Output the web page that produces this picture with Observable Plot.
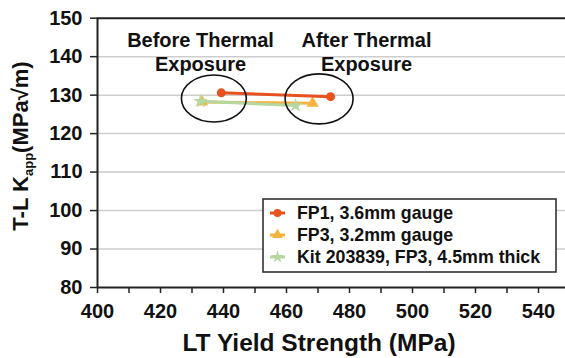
<!DOCTYPE html>
<html>
<head>
<meta charset="utf-8">
<script src="https://cdn.jsdelivr.net/npm/d3@7"></script>
<script src="https://cdn.jsdelivr.net/npm/@observablehq/plot@0.6"></script>
<style>
  html, body { margin: 0; padding: 0; background: #fff; overflow: hidden; }
  #chart { position: relative; width: 565px; height: 358px; overflow: hidden; }
  #chart svg { display: block; max-width: none !important; width: 575px !important; height: 358px !important; }
  #chart svg text { font-weight: 700 !important; font-family: 'Liberation Sans', Arial, Helvetica, sans-serif !important; }
</style>
</head>
<body>
<div id="chart"></div>
<script>
// Series: fracture toughness vs. yield strength, before and after thermal exposure
const seriesNames = ["FP1, 3.6mm gauge", "FP3, 3.2mm gauge", "Kit 203839, FP3, 4.5mm thick"];
const seriesColors = ["#e8521e", "#f6b33f", "#b6d7a0"];
const seriesSymbols = ["circle", "triangle", "star"];

// [before, after] thermal exposure
const fp1Yield = [439.3, 474.0];
const fp1K = [130.6, 129.6];
const fp3Yield = [433.2, 468.3];
const fp3K = [128.2, 127.9];
const kitYield = [432.7, 462.9];
const kitK = [128.4, 127.3];

// Axis ticks
const xTicks = [400, 410, 420, 430, 440, 450, 460, 470, 480, 490, 500, 510, 520, 530, 540, 550];
const xLabeled = [400, 420, 440, 460, 480, 500, 520, 540];
const yTicks = [80, 90, 100, 110, 120, 130, 140, 150];

// Group annotations
const groupLabels = ["Before Thermal\nExposure", "After Thermal\nExposure"];
const groupYield = [432.7, 485.4];
const groupK = [141.4, 141.4];
const ringCx = [437.1, 470.5];
const ringCy = [129.0, 128.9];
const ringRx = [10.3, 10.8];
const ringRy = [6.1, 6.5];

const seriesYield = [fp1Yield, fp3Yield, kitYield];
const seriesK = [fp1K, fp3K, kitK];
const points = [];
seriesNames.forEach((name, s) => {
  seriesYield[s].forEach((v, i) => points.push({series: name, ys: v, k: seriesK[s][i]}));
});
const groups = groupLabels.map((t, i) => ({text: t, x: groupYield[i], y: groupK[i]}));

// Drawing order: FP3 beneath the kit series, FP1 on top
const order = [1, 2, 0];
const seriesMarks = order.flatMap(s => {
  const data = points.filter(d => d.series === seriesNames[s]);
  return [
    Plot.line(data, {x: "ys", y: "k", stroke: seriesColors[s], strokeWidth: 3}),
    Plot.dot(data, {x: "ys", y: "k", fill: seriesColors[s], stroke: "none",
                    symbol: seriesSymbols[s], r: 4.5})
  ];
});

const font = "'Liberation Sans', Arial, Helvetica, sans-serif";

const plot = Plot.plot({
  width: 575,
  height: 358,
  marginLeft: 97,
  marginRight: 5.5,
  marginTop: 17.7,
  marginBottom: 71,
  style: {fontFamily: font, fontWeight: "bold", fontSize: "20px", color: "#111", background: "#fff", overflow: "visible"},
  x: {domain: [400, 550]},
  y: {domain: [80, 150]},
  marks: [
    Plot.ruleY(yTicks.filter(v => v > 80 && v < 150), {stroke: "#cdcdcd", strokeWidth: 1.5}),
    Plot.ruleY([150], {stroke: "#222", strokeWidth: 2}),
    Plot.axisY({ticks: yTicks, tickSize: 7, tickPadding: 8, label: null, stroke: "#222", strokeWidth: 1.5,
                fontSize: 20, fontWeight: "bold", fill: "#111"}),
    Plot.axisX({ticks: xTicks, tickSize: 6, tickPadding: 10, label: null, stroke: "#222", strokeWidth: 1.5,
                fontSize: 20, fontWeight: "bold", fill: "#111",
                tickFormat: d => xLabeled.includes(d) ? String(d) : ""}),
    Plot.ruleX([400], {stroke: "#222", strokeWidth: 2}),
    Plot.ruleY([80], {stroke: "#222", strokeWidth: 2}),
    Plot.text(groups, {x: "x", y: "y", text: "text", lineAnchor: "middle", lineHeight: 1.18,
                       fontSize: 20, fontWeight: "bold", fill: "#111"}),
    ...seriesMarks
  ]
});

document.getElementById("chart").appendChild(plot);

const svg = d3.select(plot);
const sx = plot.scale("x");
const sy = plot.scale("y");

// Rings around the before / after clusters
const ringG = svg.append("g").attr("fill", "none").attr("stroke", "#111").attr("stroke-width", 1.6);
ringCx.forEach((cx, i) => {
  const px = sx.apply(cx), py = sy.apply(ringCy[i]);
  ringG.append("ellipse")
    .attr("cx", px).attr("cy", py)
    .attr("rx", sx.apply(cx + ringRx[i]) - px)
    .attr("ry", py - sy.apply(ringCy[i] + ringRy[i]));
});

// Axis titles
const yTitle = svg.append("text")
  .attr("transform", "translate(28,146) rotate(-90)")
  .attr("text-anchor", "middle")
  .attr("font-family", font).attr("font-weight", "bold").attr("font-size", 22).attr("fill", "#111");
yTitle.append("tspan").text("T-L K");
yTitle.append("tspan").attr("font-size", 13).attr("dy", 5).text("app");
yTitle.append("tspan").attr("dy", -5).text("(MPa\u221Am)");

svg.append("text")
  .attr("x", 319).attr("y", 351)
  .attr("text-anchor", "middle")
  .attr("font-family", font).attr("font-weight", "bold").attr("font-size", 24.5).attr("fill", "#111")
  .text("LT Yield Strength (MPa)");

// Legend box
const lg = svg.append("g").attr("transform", "translate(263,199)").attr("text-anchor", "start");
lg.append("rect").attr("width", 293).attr("height", 73)
  .attr("fill", "#fff").attr("stroke", "#333").attr("stroke-width", 1.6);
seriesNames.forEach((name, i) => {
  const cy = 14 + i * 22;
  const row = lg.append("g").attr("transform", `translate(0,${cy})`);
  row.append("line").attr("x1", 7).attr("x2", 22).attr("y1", 0).attr("y2", 0)
    .attr("stroke", seriesColors[i]).attr("stroke-width", 3);
  const sym = {circle: d3.symbolCircle, triangle: d3.symbolTriangle, star: d3.symbolStar}[seriesSymbols[i]];
  row.append("path").attr("transform", "translate(14.5,0)")
    .attr("d", d3.symbol(sym, 50)()).attr("fill", seriesColors[i]).attr("stroke", "none");
  row.append("text").attr("x", 34).attr("y", 6).attr("text-anchor", "start")
    .attr("font-family", font).attr("font-weight", "bold").attr("font-size", 17.8).attr("fill", "#111")
    .text(name);
});
</script>
</body>
</html>
